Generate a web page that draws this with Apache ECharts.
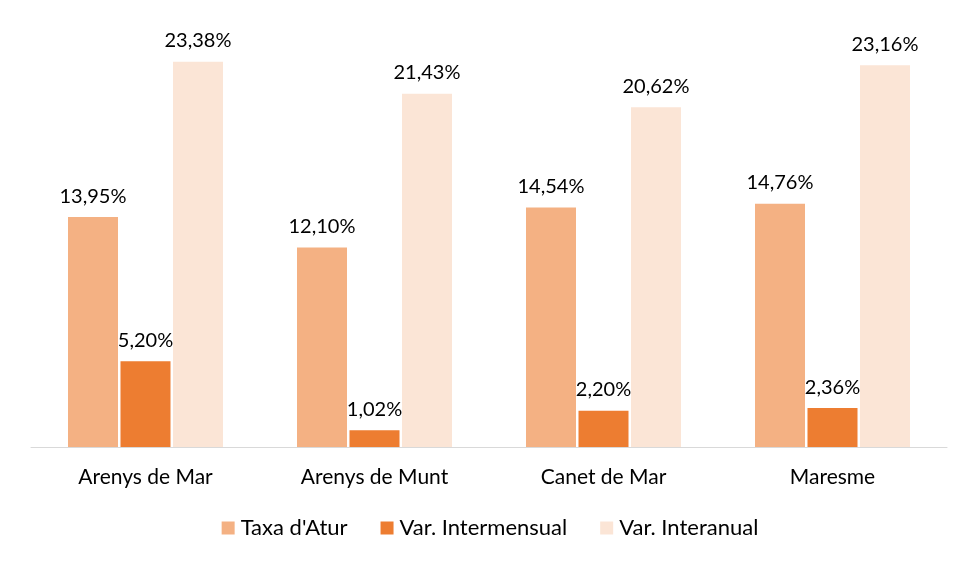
<!DOCTYPE html>
<html><head><meta charset="utf-8">
<script src="https://cdn.jsdelivr.net/npm/echarts@6/dist/echarts.min.js"></script>
<style>html,body{margin:0;padding:0;background:#fff}#c{width:980px;height:562px}</style>
</head><body><div id="c"></div>
<script>
const categories = ["Arenys de Mar", "Arenys de Munt", "Canet de Mar", "Maresme"];
const taxaAtur = [13.95, 12.10, 14.54, 14.76];
const varIntermensual = [5.20, 1.02, 2.20, 2.36];
const varInteranual = [23.38, 21.43, 20.62, 23.16];
const seriesNames = ["Taxa d'Atur", "Var. Intermensual", "Var. Interanual"];
const colors = ["#F4B183", "#ED7D31", "#FBE5D6"];

const font = "Lato, 'Open Sans', sans-serif";
const fmt = v => v.toFixed(2).replace('.', ',') + '%';
const chart = echarts.init(document.getElementById('c'));
const mk = (name, data, color) => ({
  name, type: 'bar', data, barWidth: 50, barGap: '5%',
  itemStyle: { color },
  label: { show: true, position: 'top', distance: 11, color: '#000', fontSize: 20, fontFamily: font,
           formatter: p => fmt(p.value) }
});
chart.setOption({
  animation: false,
  color: colors,
  grid: { left: 31, right: 33, top: 35, bottom: 115, containLabel: false },
  legend: {
    top: 512, left: 'center', itemWidth: 13, itemHeight: 13, itemGap: 33, icon: 'rect',
    textStyle: { fontSize: 22, fontFamily: font, color: '#000', padding: [0, 0, 0, 1] },
    data: seriesNames
  },
  xAxis: {
    type: 'category', data: categories,
    axisLine: { lineStyle: { color: '#d9d9d9', width: 1 } },
    axisTick: { show: false },
    axisLabel: { fontSize: 21, fontFamily: font, color: '#000', margin: 20 }
  },
  yAxis: { type: 'value', min: 0, max: 25, show: false, splitLine: { show: false } },
  series: [
    mk(seriesNames[0], taxaAtur, colors[0]),
    mk(seriesNames[1], varIntermensual, colors[1]),
    mk(seriesNames[2], varInteranual, colors[2])
  ]
});
</script></body></html>
